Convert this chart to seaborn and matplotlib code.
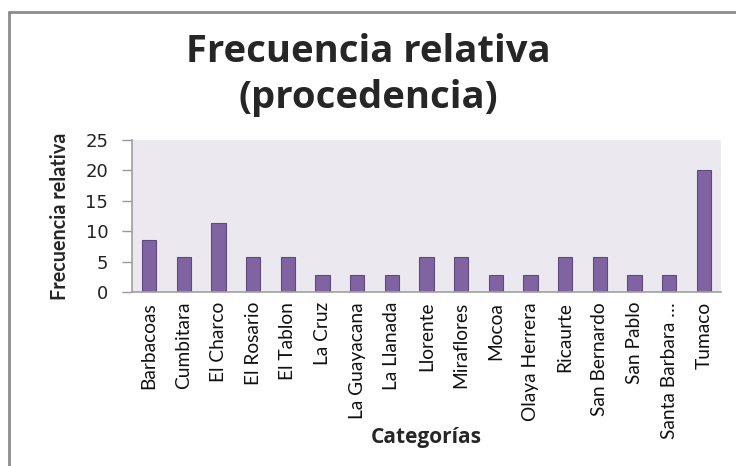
import matplotlib
matplotlib.use("Agg")
import matplotlib.pyplot as plt
import seaborn as sns
import pandas as pd
from matplotlib.lines import Line2D

categorias = ["Barbacoas", "Cumbitara", "El Charco", "El Rosario", "El Tablon",
              "La Cruz", "La Guayacana", "La Llanada", "Llorente", "Miraflores",
              "Mocoa", "Olaya Herrera", "Ricaurte", "San Bernardo", "San Pablo",
              "Santa Barbara …", "Tumaco"]
frecuencia = [8.57, 5.71, 11.43, 5.71, 5.71, 2.86, 2.86, 2.86, 5.71, 5.71,
              2.86, 2.86, 5.71, 5.71, 2.86, 2.86, 20.0]
y_ticks = [0, 5, 10, 15, 20, 25]

df = pd.DataFrame({"Categorías": categorias, "Frecuencia relativa": frecuencia})

sns.set_theme(style="white")
plt.rcParams['font.family'] = ['Lato', 'DejaVu Sans']

fig = plt.figure(figsize=(7.36, 4.66), dpi=100)
ax = fig.add_axes([0.179, 0.373, 0.801, 0.327])
ax.set_facecolor("#EBE9EF")

sns.barplot(data=df, x="Categorías", y="Frecuencia relativa", ax=ax,
            color="#8064A2", saturation=1, width=0.41,
            edgecolor="#5F4A7E", linewidth=0.8)

ax.set_ylim(0, 25)
ax.set_xlim(-0.5, len(categorias) - 0.5)
ax.set_yticks(y_ticks)
ax.set_yticklabels([str(t) for t in y_ticks], fontsize=13, color="#222222",
                   family=['DejaVu Sans'])
ax.tick_params(axis='y', direction='out', length=7, width=1, color="#999999", pad=10, left=True)
ax.tick_params(axis='x', length=0, pad=7)
ax.set_xticks(range(len(categorias)))
ax.set_xticklabels(categorias, rotation=90, fontsize=13.8, color="#111111")

for s in ["top", "right"]:
    ax.spines[s].set_visible(False)
for s in ["left", "bottom"]:
    ax.spines[s].set_color("#A0A0A0")
    ax.spines[s].set_linewidth(1.2)

ax.set_xlabel("Categorías", fontsize=15, fontweight="bold",
              family=['Open Sans', 'DejaVu Sans'])
ax.set_ylabel("Frecuencia relativa", fontsize=14.2, fontweight="bold")
ax.xaxis.set_label_coords(0.5, -(437 - 292) / 152)
ax.yaxis.set_label_coords(-(132 - 60) / 589, 0.5)
ax.xaxis.label.set_va("center")
ax.yaxis.label.set_va("center")

fig.text(0.5, 0.839, "Frecuencia relativa\n(procedencia)", ha="center", va="center",
         fontsize=27.5, fontweight="bold", linespacing=1.25,
         family=['Open Sans', 'DejaVu Sans'])

# chart frame (left and top edges)
fig.add_artist(Line2D([9/736, 9/736], [0, 1 - 12/466], transform=fig.transFigure,
                      color="#8C8C8C", linewidth=2))
fig.add_artist(Line2D([9/736, 1], [1 - 12/466, 1 - 12/466], transform=fig.transFigure,
                      color="#8C8C8C", linewidth=2))

fig.savefig("out.png", dpi=100)
